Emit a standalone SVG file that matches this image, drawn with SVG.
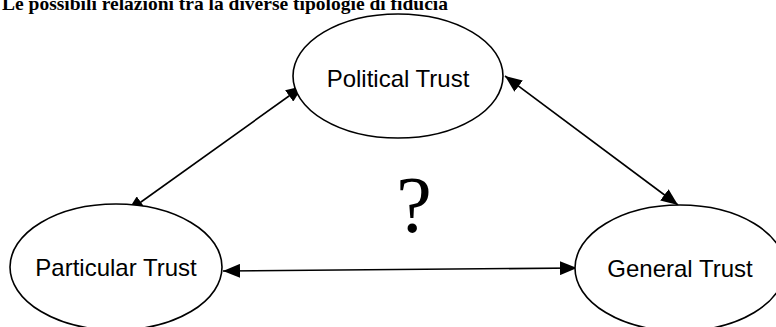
<svg xmlns="http://www.w3.org/2000/svg" width="776" height="327" viewBox="0 0 776 327">
  <style>
    .node ellipse { fill: #ffffff; stroke: #000000; stroke-width: 1.6; }
    .node text { font-family: "Liberation Sans", Arial, sans-serif; font-size: 24px; fill: #000000; text-anchor: middle; }
    .title { font-family: "Liberation Serif", "Times New Roman", serif; font-size: 19.5px; font-weight: bold; fill: #000000; }
    .mark { font-family: "Liberation Serif", "Times New Roman", serif; font-size: 80px; fill: #000000; text-anchor: middle; }
    .edge { stroke: #000000; stroke-width: 1.6; fill: none; marker-start: url(#head); marker-end: url(#head); }
  </style>
  <defs>
    <marker id="head" markerUnits="userSpaceOnUse" markerWidth="18" markerHeight="14" refX="17" refY="7" orient="auto-start-reverse">
      <path d="M0,0 L17,7 L0,14 z" fill="#000000"/>
    </marker>
  </defs>
  <rect width="776" height="327" fill="#ffffff"/>

  <text class="title" x="2" y="10">Le possibili relazioni tra la diverse tipologie di fiducia</text>

  <g id="connectors">
    <line class="edge" x1="127" y1="212" x2="303" y2="86"/>
    <line class="edge" x1="505" y1="76" x2="678" y2="205"/>
    <line class="edge" x1="223" y1="271" x2="577" y2="268"/>
  </g>

  <g id="political-trust" class="node">
    <ellipse cx="398" cy="76" rx="105" ry="62"/>
    <text x="398" y="87">Political Trust</text>
  </g>
  <g id="particular-trust" class="node">
    <ellipse cx="116" cy="267" rx="106" ry="63"/>
    <text x="116" y="276">Particular Trust</text>
  </g>
  <g id="general-trust" class="node">
    <ellipse cx="680" cy="268" rx="105" ry="63"/>
    <text x="680" y="277">General Trust</text>
  </g>

  <text class="mark" x="414" y="232">?</text>
</svg>
